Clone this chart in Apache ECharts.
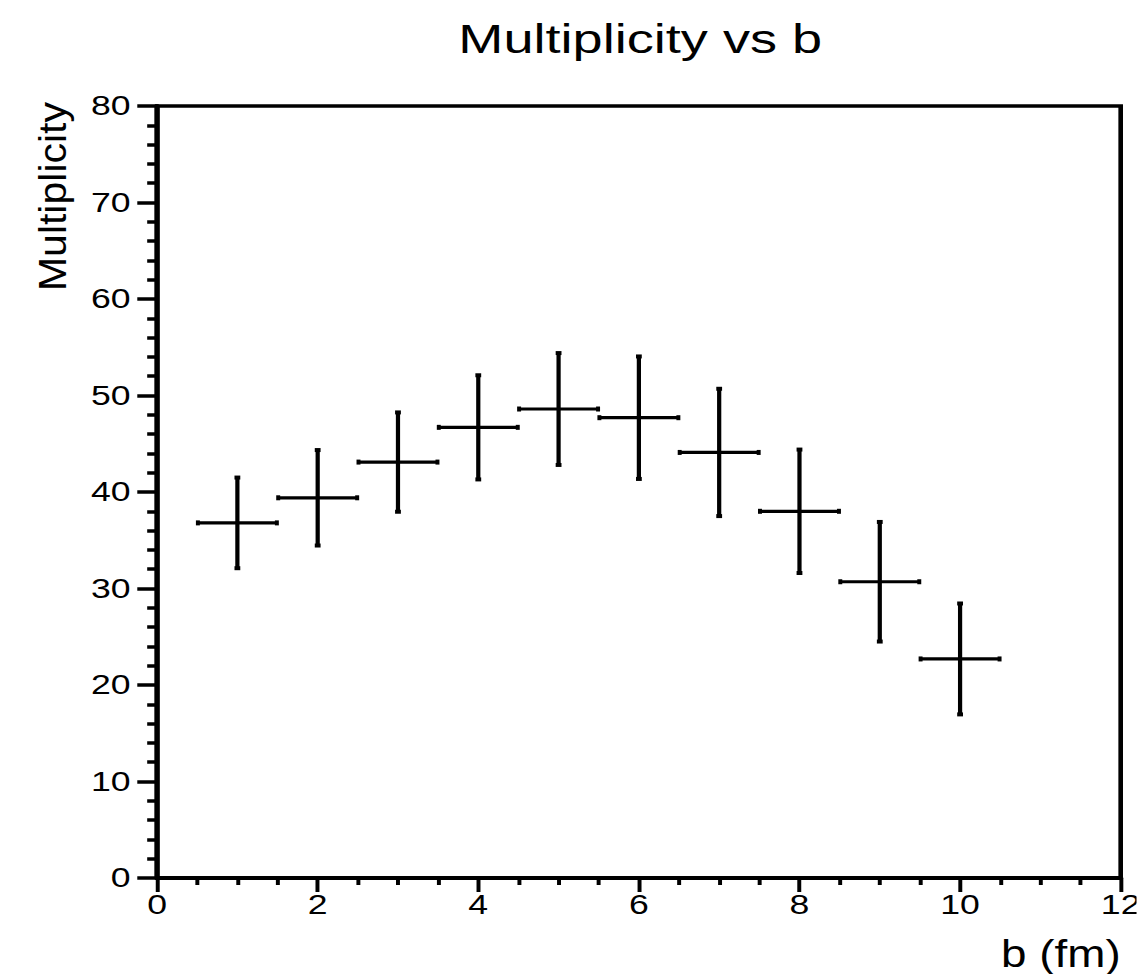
<!DOCTYPE html>
<html>
<head>
<meta charset="utf-8">
<script src="https://cdn.jsdelivr.net/npm/echarts@6/dist/echarts.min.js"></script>
<style>
html, body { margin: 0; padding: 0; background: #fff; overflow: hidden; }
#wrap { width: 1137px; height: 974px; overflow: hidden; }
#c { width: 861px; height: 974px; transform: scaleX(1.32); transform-origin: 0 0; }
</style>
</head>
<body>
<div id="wrap"><div id="c"></div></div>
<script>
// Data
const bValues = [1, 2, 3, 4, 5, 6, 7, 8, 9, 10];
const multiplicity = [36.8, 39.4, 43.1, 46.7, 48.6, 47.7, 44.1, 38.0, 30.7, 22.7];
const multErr = [4.8, 5.05, 5.25, 5.5, 5.9, 6.45, 6.7, 6.5, 6.3, 5.85];
const bErr = [0.5, 0.5, 0.5, 0.5, 0.5, 0.5, 0.5, 0.5, 0.5, 0.5];
const xTicks = [0, 2, 4, 6, 8, 10, 12];
const yTicks = [0, 10, 20, 30, 40, 50, 60, 70, 80];
const titleText = 'Multiplicity vs b';
const xName = 'b (fm)';
const yName = 'Multiplicity';

const FONT = '"Liberation Sans", Arial, Helvetica, sans-serif';
const seriesData = bValues.map((b, i) => [b, multiplicity[i], bErr[i], multErr[i]]);

const chart = echarts.init(document.getElementById('c'), null, { renderer: 'svg' });

function renderItem(params, api) {
  const x = api.value(0), y = api.value(1), ex = api.value(2), ey = api.value(3);
  const l = api.coord([x - ex, y]);
  const r = api.coord([x + ex, y]);
  const t = api.coord([x, y + ey]);
  const btm = api.coord([x, y - ey]);
  const st = { stroke: '#000', lineWidth: 3.2, fill: null };
  const cap = { fill: '#000' };
  return {
    type: 'group',
    children: [
      { type: 'line', shape: { x1: l[0], y1: l[1], x2: r[0], y2: r[1] }, style: st },
      { type: 'line', shape: { x1: t[0], y1: t[1], x2: btm[0], y2: btm[1] }, style: st },
      { type: 'rect', shape: { x: l[0] - 1, y: l[1] - 2.5, width: 3, height: 5 }, style: cap },
      { type: 'rect', shape: { x: r[0] - 2, y: r[1] - 2.5, width: 3, height: 5 }, style: cap },
      { type: 'rect', shape: { x: t[0] - 2.2, y: t[1] - 1, width: 4.4, height: 4 }, style: cap },
      { type: 'rect', shape: { x: btm[0] - 2.2, y: btm[1] - 3, width: 4.4, height: 4 }, style: cap }
    ]
  };
}

const option = {
  animation: false,
  backgroundColor: '#fff',
  title: {
    text: titleText,
    left: 480,
    top: 13,
    textAlign: 'center',
    textStyle: { fontFamily: FONT, fontSize: 41, fontWeight: 'normal', color: '#000' }
  },
  grid: {
    left: 119, right: 12, top: 106, bottom: 96,
    containLabel: false,
    outerBoundsMode: 'none',
    show: true, borderColor: '#000', borderWidth: 3.5, backgroundColor: 'transparent'
  },
  xAxis: {
    type: 'value', min: xTicks[0], max: xTicks[xTicks.length - 1], interval: 2,
    axisLine: { show: true, onZero: false, lineStyle: { color: '#000', width: 4 } },
    axisTick: { show: true, inside: false, length: 14, lineStyle: { color: '#000', width: 3 } },
    minorTick: { show: true, splitNumber: 4, length: 7, lineStyle: { color: '#000', width: 3 } },
    splitLine: { show: false },
    axisLabel: { color: '#000', fontFamily: FONT, fontSize: 27, margin: 13, showMaxLabel: true, showMinLabel: true }
  },
  yAxis: {
    type: 'value', min: yTicks[0], max: yTicks[yTicks.length - 1], interval: 10,
    axisLine: { show: true, onZero: false, lineStyle: { color: '#000', width: 4 } },
    axisTick: { show: true, inside: false, length: 15, lineStyle: { color: '#000', width: 3.5 } },
    minorTick: { show: true, splitNumber: 5, length: 7.5, lineStyle: { color: '#000', width: 3.5 } },
    splitLine: { show: false },
    axisLabel: { color: '#000', fontFamily: FONT, fontSize: 27, margin: 20 }
  },
  graphic: [
    {
      type: 'text', x: 39.5, y: 102, rotation: Math.PI / 2, scaleY: 0.7,
      style: { text: yName, fontFamily: FONT, fontSize: 41, fill: '#000', align: 'right', verticalAlign: 'middle' }
    },
    {
      type: 'text', x: 849, y: 953, scaleX: 0.89,
      style: { text: xName, fontFamily: FONT, fontSize: 39, fill: '#000', align: 'right', verticalAlign: 'middle' }
    }
  ],
  series: [{
    type: 'custom',
    renderItem: renderItem,
    data: seriesData,
    encode: { x: 0, y: 1 },
    clip: false
  }]
};
chart.setOption(option);
</script>
</body>
</html>
